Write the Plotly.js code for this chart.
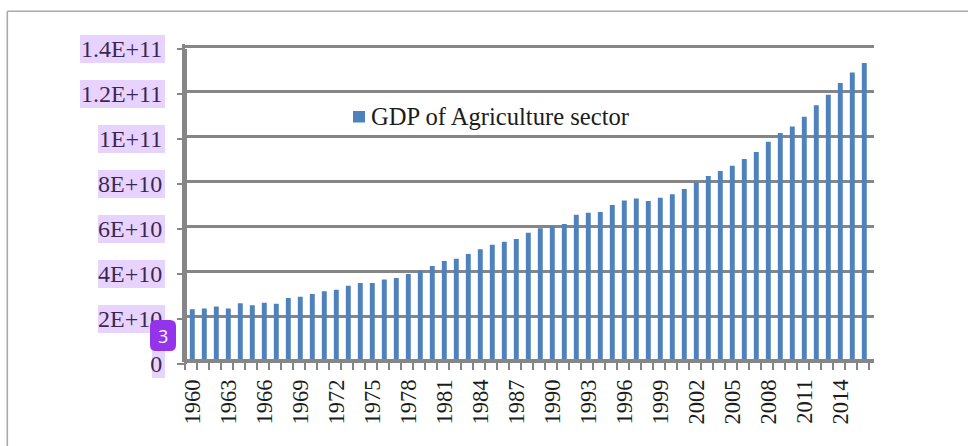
<!DOCTYPE html>
<html>
<head>
<meta charset="utf-8">
<script src="https://cdn.plot.ly/plotly-3.0.1.min.js"></script>
<style>html,body{margin:0;padding:0;background:#fff}#chart{width:968px;height:446px}</style>
</head>
<body>
<div id="chart"></div>
<script>
// Agricultural GDP by year, in the units of the value axis.
const years = [1960,1961,1962,1963,1964,1965,1966,1967,1968,1969,1970,1971,1972,1973,1974,1975,1976,1977,1978,1979,1980,1981,1982,1983,1984,1985,1986,1987,1988,1989,1990,1991,1992,1993,1994,1995,1996,1997,1998,1999,2000,2001,2002,2003,2004,2005,2006,2007,2008,2009,2010,2011,2012,2013,2014,2015,2016];
const gdpBillions = [23.2,23.6,24.5,23.6,25.9,25.0,26.1,25.7,28.2,28.8,30.0,31.2,31.9,33.7,34.9,34.9,36.5,37.1,38.9,40.4,42.4,44.7,45.7,47.8,49.9,51.9,53.2,54.4,57.2,59.2,60.2,61.1,65.2,66.1,66.4,69.6,71.6,72.4,71.3,72.8,74.3,76.7,79.6,82.4,84.7,87.0,90.0,93.1,97.7,101.6,104.5,108.8,113.9,118.6,123.8,128.4,132.7];
const seriesName = 'GDP of Agriculture sector';
const valueTicks = [0,2e10,4e10,6e10,8e10,1e11,1.2e11,1.4e11];
const valueLabels = ['0','2E+10','4E+10','6E+10','8E+10','1E+11','1.2E+11','1.4E+11'];
const labelBoxLeft = [152,98,98,98,98,98,80,80];

const W = 968, H = 446;
const serif = '"Liberation Serif", serif';
const axisGrey = '#868686';

// Plot frame in pixels; the label axis sits slightly lower than the grid.
const plotL = 185, plotR = 874, plotT = 46.5, plotB = 361.5, labelDrop = 2.5;
const pxPerYear = 12, firstBarX = 192.3;
const xStart = years[0] - (firstBarX - plotL) / pxPerYear;
const xEnd = xStart + (plotR - plotL) / pxPerYear;
const margin = {l: plotL, r: W - plotR, t: 20, b: 60};
const innerH = H - margin.t - margin.b, innerW = plotR - plotL;
const domY = y => (H - margin.b - y) / innerH;
const paperX = x => (x - plotL) / innerW;
const paperY = y => (H - margin.b - y) / innerH;

// Headroom above the top tick keeps its gridline inside the plot.
const topPad = 1e9;
const pxPerUnit = (plotB - plotT) / 1.4e11;

const pxRect = (x0, y0, x1, y1, fill) => ({
  type: 'rect', xref: 'paper', yref: 'paper', layer: 'above',
  x0: paperX(x0), x1: paperX(x1), y0: paperY(y0), y1: paperY(y1),
  fillcolor: fill, line: {width: 0}
});
const pxLine = (x0, y0, x1, y1) => ({
  type: 'line', xref: 'paper', yref: 'paper', layer: 'above',
  x0: paperX(x0), x1: paperX(x1), y0: paperY(y0), y1: paperY(y1),
  line: {color: '#a9a9a9', width: 1.6}
});

// Translucent highlight over each value label.
const tickPx = v => plotB + labelDrop - v * pxPerUnit;
const highlights = valueTicks.map((v, i) =>
  pxRect(labelBoxLeft[i], tickPx(v) - 14, 165, tickPx(v) + 14, 'rgba(160,70,255,0.24)'));

// Rounded badge path, x/y in paper coordinates.
const bx0 = 150, bx1 = 176, by0 = 320, by1 = 351, br = 6;
const P = (x, y) => paperX(x) + ',' + paperY(y);
const badgePath = 'M' + P(bx0 + br, by0) + ' L' + P(bx1 - br, by0) +
  ' Q' + P(bx1, by0) + ' ' + P(bx1, by0 + br) + ' L' + P(bx1, by1 - br) +
  ' Q' + P(bx1, by1) + ' ' + P(bx1 - br, by1) + ' L' + P(bx0 + br, by1) +
  ' Q' + P(bx0, by1) + ' ' + P(bx0, by1 - br) + ' L' + P(bx0, by0 + br) +
  ' Q' + P(bx0, by0) + ' ' + P(bx0 + br, by0) + ' Z';

const gdp = gdpBillions.map(v => v * 1e9);
const traces = [
  {type: 'bar', x: years, y: gdp, name: seriesName, width: 0.41,
   marker: {color: '#4F81BD', line: {width: 0}}, hoverinfo: 'x+y', showlegend: false},
  // Carries the value-axis ticks and labels.
  {type: 'scatter', mode: 'none', x: years, y: gdp, xaxis: 'x', yaxis: 'y2',
   showlegend: false, hoverinfo: 'skip'}
];

const layout = {
  width: W, height: H, margin: margin,
  paper_bgcolor: '#fff', plot_bgcolor: 'rgba(0,0,0,0)',
  showlegend: false,
  font: {family: serif, color: '#1c1c1c', size: 22},
  xaxis: {
    type: 'linear', range: [xStart, xEnd], domain: [0, 1],
    anchor: 'free', position: domY(plotB - 1.5),
    tickmode: 'linear', tick0: 1960, dtick: 3, ticks: '', ticklen: 0,
    tickangle: -90, tickfont: {family: serif, size: 22.5, color: '#1c1c1c'},
    ticklabelstandoff: 8, showgrid: false, zeroline: false,
    showline: true, linecolor: axisGrey, linewidth: 3.5,
    minor: {tickmode: 'linear', tick0: years[0] - 7.3 / pxPerYear, dtick: 1,
            ticks: 'outside', ticklen: 7, tickwidth: 2, tickcolor: axisGrey, showgrid: false}
  },
  yaxis: {
    domain: [domY(plotB), domY(plotT - topPad * pxPerUnit)], range: [0, 1.4e11 + topPad], anchor: 'x',
    tickmode: 'array', tickvals: valueTicks, ticktext: valueTicks.map(() => ''),
    ticks: '', showgrid: true, gridcolor: axisGrey, gridwidth: 2.5,
    zeroline: false, showline: true, linecolor: axisGrey, linewidth: 3
  },
  yaxis2: {
    domain: [domY(plotB + labelDrop), domY(plotT + labelDrop)], range: [0, 1.4e11],
    anchor: 'free', position: 0, side: 'left',
    tickmode: 'array', tickvals: valueTicks, ticktext: valueLabels,
    ticks: 'outside', ticklen: 7, tickwidth: 2, tickcolor: axisGrey,
    ticklabelstandoff: 10, tickfont: {family: serif, size: 24, color: '#1c1c1c'},
    showgrid: false, zeroline: false, showline: true, linecolor: axisGrey, linewidth: 3
  },
  shapes: [
    pxLine(7.3, 11.3, 968, 11.3),
    pxLine(7.3, 11.3, 7.3, 446),
    ...highlights,
    {type: 'path', xref: 'paper', yref: 'paper', layer: 'above', path: badgePath,
     fillcolor: '#9333EA', line: {width: 0}},
    pxRect(353, 111, 365, 122.5, '#4F81BD')
  ],
  annotations: [
    {xref: 'paper', yref: 'paper', x: paperX(369), y: paperY(117), xanchor: 'left', yanchor: 'middle',
     text: seriesName, showarrow: false, font: {family: serif, size: 24.6, color: '#1c1c1c'}},
    {xref: 'paper', yref: 'paper', x: paperX(163), y: paperY(335.5), xanchor: 'center', yanchor: 'middle',
     text: '3', showarrow: false, font: {family: '"Open Sans", sans-serif', size: 18, color: '#fff'}}
  ]
};

Plotly.newPlot('chart', traces, layout, {displayModeBar: false, staticPlot: true});
</script>
</body>
</html>
